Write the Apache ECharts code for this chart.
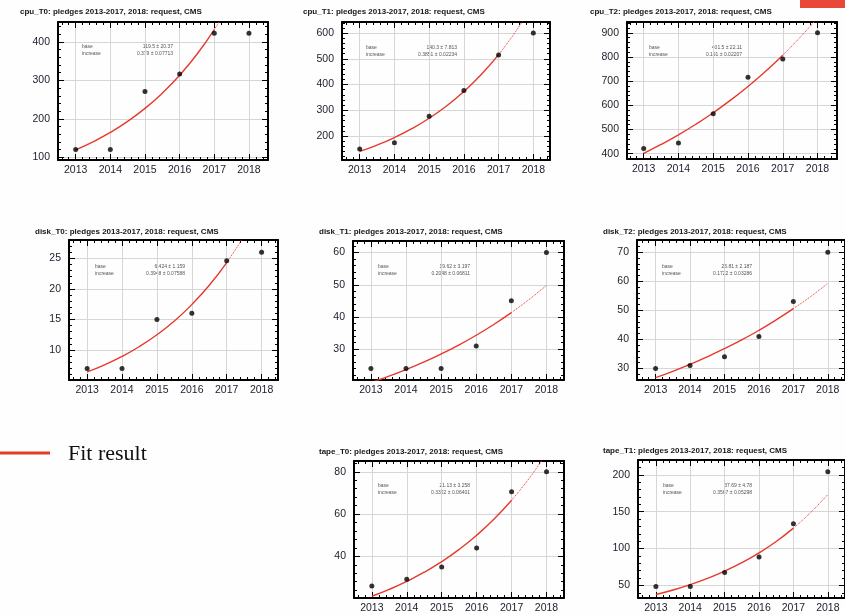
<!DOCTYPE html>
<html>
<head>
<meta charset="utf-8">
<title>Pledges fit</title>
<script src="https://cdn.jsdelivr.net/npm/echarts@6/dist/echarts.min.js"></script>
<style>
  html, body { margin: 0; padding: 0; background: #fefefe; }
  #chart { width: 845px; height: 614px; }
</style>
</head>
<body>
<div id="chart"></div>
<script>
// years of the pledges and x positions of the fit curve
const years = [2013, 2014, 2015, 2016, 2017, 2018]
const fitYears = [2013, 2013.5, 2014, 2014.5, 2015, 2015.5, 2016, 2016.5, 2017]
const extYears = [2017, 2017.5, 2018]

const titles = [
  'cpu_T0: pledges 2013-2017, 2018: request, CMS',
  'cpu_T1: pledges 2013-2017, 2018: request, CMS',
  'cpu_T2: pledges 2013-2017, 2018: request, CMS',
  'disk_T0: pledges 2013-2017, 2018: request, CMS',
  'disk_T1: pledges 2013-2017, 2018: request, CMS',
  'disk_T2: pledges 2013-2017, 2018: request, CMS',
  'tape_T0: pledges 2013-2017, 2018: request, CMS',
  'tape_T1: pledges 2013-2017, 2018: request, CMS'
]

// measured points
const cpuT0 = [120, 120, 271, 317, 423, 423]
const cpuT1 = [150, 174, 277, 377, 515, 600]
const cpuT2 = [421, 444, 565, 716, 792, 900]
const diskT0 = [7, 7, 15, 16, 24.6, 26]
const diskT1 = [24, 24, 24, 31, 45, 60]
const diskT2 = [30, 31, 34, 41, 53, 70]
const tapeT0 = [26, 29.2, 35, 44, 70.5, 80]
const tapeT1 = [48.5, 48.5, 67.7, 88.7, 133.6, 204]

// fit curve (solid 2013-2017, dotted 2017-2018)
const cpuT0Fit = [119.5, 140.3, 164.8, 193.5, 227.2, 266.9, 313.4, 368.0, 432.2]
const cpuT0Ext = [432.2, 507.5, 596]
const cpuT1Fit = [140.3, 165.1, 194.3, 228.7, 269.1, 316.7, 372.7, 438.7, 516.2]
const cpuT1Ext = [516.2, 607.6, 715]
const cpuT2Fit = [401.5, 438.2, 478.2, 521.8, 569.5, 621.5, 678.3, 740.2, 807.8]
const cpuT2Ext = [807.8, 881.6, 962.1]
const diskT0Fit = [6.42, 7.59, 8.96, 10.58, 12.5, 14.76, 17.43, 20.59, 24.31]
const diskT0Ext = [24.31, 28.71, 33.9]
const diskT1Fit = [19.62, 21.54, 23.64, 25.94, 28.48, 31.26, 34.31, 37.66, 41.34]
const diskT1Ext = [41.34, 45.37, 49.8]
const diskT2Fit = [26.8, 29.0, 31.4, 34.0, 36.8, 39.8, 43.1, 46.7, 50.6]
const diskT2Ext = [50.6, 54.7, 59.3]
const tapeT0Fit = [21.13, 24.39, 28.15, 32.49, 37.5, 43.28, 49.96, 57.66, 66.55]
const tapeT0Ext = [66.55, 76.82, 88.66]
const tapeT1Fit = [37.69, 43.9, 51.13, 59.56, 69.38, 80.81, 94.13, 109.6, 127.7]
const tapeT1Ext = [127.7, 148.8, 173.3]

// y tick labels
const cpuT0Ticks = [100, 200, 300, 400]
const cpuT1Ticks = [200, 300, 400, 500, 600]
const cpuT2Ticks = [400, 500, 600, 700, 800, 900]
const diskT0Ticks = [10, 15, 20, 25]
const diskT1Ticks = [30, 40, 50, 60]
const diskT2Ticks = [30, 40, 50, 60, 70]
const tapeT0Ticks = [40, 60, 80]
const tapeT1Ticks = [50, 100, 150, 200]

// fit parameters printed in each box
const baseText = ['119.5 ± 20.37', '140.3 ± 7.813', '401.5 ± 22.11', '6.424 ± 1.159',
  '19.62 ± 3.197', '25.81 ± 2.187', '21.13 ± 3.258', '37.69 ± 4.78']
const incText = ['0.379 ± 0.07713', '0.3851 ± 0.02234', '0.191 ± 0.02207', '0.3948 ± 0.07588',
  '0.2048 ± 0.06811', '0.1722 ± 0.03286', '0.3322 ± 0.06401', '0.3567 ± 0.05298']

const points = [cpuT0, cpuT1, cpuT2, diskT0, diskT1, diskT2, tapeT0, tapeT1]
const fits = [cpuT0Fit, cpuT1Fit, cpuT2Fit, diskT0Fit, diskT1Fit, diskT2Fit, tapeT0Fit, tapeT1Fit]
const exts = [cpuT0Ext, cpuT1Ext, cpuT2Ext, diskT0Ext, diskT1Ext, diskT2Ext, tapeT0Ext, tapeT1Ext]
const yTicks = [cpuT0Ticks, cpuT1Ticks, cpuT2Ticks, diskT0Ticks, diskT1Ticks, diskT2Ticks, tapeT0Ticks, tapeT1Ticks]

// layout: plot box, axis ranges, title & stat positions
const boxes = [
  { left: 58, top: 22, width: 210, height: 138, xMin: 2012.49, xMax: 2018.55, yMin: 93, yMax: 452, split: 5, tx: 20, ty: 8, sx: 82, sy: 47, vx: 173 },
  { left: 342, top: 22, width: 208, height: 138, xMin: 2012.49, xMax: 2018.48, yMin: 107, yMax: 643, split: 5, tx: 303, ty: 8, sx: 366, sy: 48, vx: 457 },
  { left: 627, top: 22, width: 210, height: 137, xMin: 2012.52, xMax: 2018.56, yMin: 378, yMax: 945, split: 5, tx: 590, ty: 8, sx: 649, sy: 48, vx: 742 },
  { left: 69, top: 240, width: 209, height: 140, xMin: 2012.48, xMax: 2018.47, yMin: 5.1, yMax: 28, split: 5, tx: 35, ty: 228, sx: 95, sy: 267, vx: 185 },
  { left: 353, top: 241, width: 211, height: 139, xMin: 2012.49, xMax: 2018.5, yMin: 20.4, yMax: 63.6, split: 5, tx: 319, ty: 228, sx: 378, sy: 267, vx: 470 },
  { left: 637, top: 240, width: 209, height: 140, xMin: 2012.46, xMax: 2018.5, yMin: 26, yMax: 74.2, split: 5, tx: 603, ty: 228, sx: 662, sy: 267, vx: 752 },
  { left: 354, top: 461, width: 210, height: 139, xMin: 2012.49, xMax: 2018.5, yMin: 20.3, yMax: 85.1, split: 3, tx: 319, ty: 448, sx: 378, sy: 486, vx: 470 },
  { left: 638, top: 460, width: 209, height: 140, xMin: 2012.48, xMax: 2018.5, yMin: 33, yMax: 220, split: 4, tx: 603, ty: 447, sx: 663, sy: 486, vx: 752 }
]

const RED = '#e5392c'
const FONT = 'Liberation Sans'
const pairs = (xs, ys) => xs.map((x, i) => [x, ys[i]])

const chart = echarts.init(document.getElementById('chart'))

const grid = []
const xAxis = []
const yAxis = []
const series = []
const title = []
const graphic = []

const frameLine = { show: true, onZero: false, lineStyle: { color: '#000', width: 2 } }
const tickStyle = { color: '#000', width: 1 }

boxes.forEach((b, i) => {
  grid.push({ left: b.left, top: b.top, width: b.width, height: b.height, containLabel: false })

  const xBase = {
    gridIndex: i, type: 'value', min: b.xMin, max: b.xMax, splitNumber: 5,
    axisLine: frameLine,
    axisTick: { inside: true, length: 6, customValues: years, lineStyle: tickStyle },
    minorTick: { show: true, splitNumber: 5, length: 3, lineStyle: tickStyle }
  }
  xAxis.push(Object.assign({}, xBase, {
    position: 'bottom',
    axisLabel: { customValues: years, formatter: v => String(v), margin: 5, fontSize: 10.5, fontFamily: FONT, color: '#1c1c2c' },
    splitLine: { show: true, lineStyle: { color: '#d6d6d6', width: 1 } }
  }))
  xAxis.push(Object.assign({}, xBase, {
    position: 'top', axisLabel: { show: false }, splitLine: { show: false }
  }))

  const yBase = {
    gridIndex: i, type: 'value', min: b.yMin, max: b.yMax, splitNumber: b.split,
    axisLine: frameLine,
    axisTick: { inside: true, length: 6, customValues: yTicks[i], lineStyle: tickStyle },
    minorTick: { show: true, splitNumber: 5, length: 3, lineStyle: tickStyle }
  }
  yAxis.push(Object.assign({}, yBase, {
    position: 'left',
    axisLabel: { customValues: yTicks[i], formatter: v => String(v), margin: 8, fontSize: 10.5, fontFamily: FONT, color: '#1c1c2c' },
    splitLine: { show: true, lineStyle: { color: '#d6d6d6', width: 1 } }
  }))
  yAxis.push(Object.assign({}, yBase, {
    position: 'right', axisLabel: { show: false }, splitLine: { show: false }
  }))

  series.push({
    type: 'line', xAxisIndex: i * 2, yAxisIndex: i * 2, data: pairs(fitYears, fits[i]),
    smooth: true, showSymbol: false, clip: true, silent: true,
    lineStyle: { color: RED, width: 1.4 }, z: 3
  })
  series.push({
    type: 'line', xAxisIndex: i * 2, yAxisIndex: i * 2, data: pairs(extYears, exts[i]),
    smooth: true, showSymbol: false, clip: true, silent: true,
    lineStyle: { color: RED, width: 1, type: 'dotted' }, z: 3
  })
  series.push({
    type: 'scatter', xAxisIndex: i * 2, yAxisIndex: i * 2, data: pairs(years, points[i]),
    symbolSize: 5, itemStyle: { color: '#000' }, z: 4
  })

  title.push({
    text: titles[i], left: b.tx, top: b.ty, padding: 0,
    textStyle: { fontSize: 8, fontWeight: 'bold', fontFamily: FONT, color: '#151515' }
  })

  const statStyle = { fontSize: 5, fontFamily: FONT, fill: '#555', verticalAlign: 'middle' }
  graphic.push({ type: 'text', x: b.sx, y: b.sy, style: Object.assign({ text: 'base' }, statStyle) })
  graphic.push({ type: 'text', x: b.sx, y: b.sy + 7, style: Object.assign({ text: 'increase' }, statStyle) })
  graphic.push({ type: 'text', x: b.vx, y: b.sy, style: Object.assign({ text: baseText[i], align: 'right' }, statStyle) })
  graphic.push({ type: 'text', x: b.vx, y: b.sy + 7, style: Object.assign({ text: incText[i], align: 'right' }, statStyle) })
})

// slide legend and corner mark
graphic.push({ type: 'line', shape: { x1: 0, y1: 453, x2: 50, y2: 453 }, style: { stroke: RED, lineWidth: 3 } })
graphic.push({
  type: 'text', x: 68, y: 454,
  style: { text: 'Fit result', fontSize: 22, fontFamily: 'Liberation Serif', fill: '#111', verticalAlign: 'middle' }
})
graphic.push({ type: 'rect', shape: { x: 800, y: 0, width: 45, height: 8 }, style: { fill: '#e8473a' } })

chart.setOption({
  backgroundColor: '#fefefe',
  animation: false,
  title, grid, xAxis, yAxis, series, graphic
})
</script>
</body>
</html>
